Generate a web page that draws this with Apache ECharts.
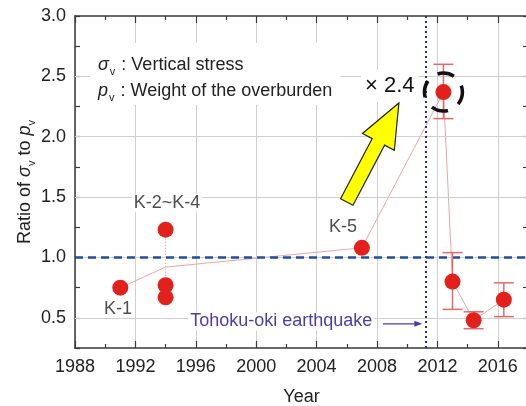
<!DOCTYPE html>
<html>
<head>
<meta charset="utf-8">
<script src="https://cdn.jsdelivr.net/npm/echarts@6/dist/echarts.min.js"></script>
<style>
  html, body { margin: 0; padding: 0; background: #fff; }
  #chart { width: 526px; height: 406px; }
</style>
</head>
<body>
<div id="chart"></div>
<script>
// Measured ratio of vertical stress to overburden weight, by survey year
const pointYears  = [1991, 1994, 1994, 1994, 2007, 2012.4, 2013.0, 2014.4, 2016.4];
const pointRatios = [0.75, 1.23, 0.77, 0.67, 1.08, 2.37, 0.80, 0.48, 0.65];

// Error ranges for the post-earthquake measurements
const errYears = [2012.4, 2013.0, 2014.4, 2016.4];
const errLow   = [2.15, 0.57, 0.41, 0.51];
const errHigh  = [2.60, 1.04, 0.55, 0.79];

// Trend line through the surveys (K-2~K-4 represented by their mean)
const trendYears  = [1991, 1994, 2007, 2012.4, 2013.0, 2014.4, 2016.4];
const trendRatios = [0.75, 0.92, 1.08, 2.37, 0.80, 0.48, 0.65];

// Spread of the K-2~K-4 group
const spreadYears  = [1994, 1994];
const spreadRatios = [1.23, 0.67];

// Survey labels and where they sit (year, ratio)
const surveyNames  = ['K-1', 'K-2~K-4', 'K-5'];
const surveyLabelX = [1990.85, 1994.1, 2005.75];
const surveyLabelY = [0.575, 1.45, 1.255];

// Reference values
const earthquakeYear = 2011.2;
const unityRatio = 1.0;
const gridRatios = [0.5, 1.0, 1.5, 2.0, 2.5];

// Axis ranges
const xMin = 1988, xMax = 2018, xStep = 4;
const yMin = 0.25, yMax = 3.0, yStep = 0.25;

const FONT = 'Liberation Sans, Arial, sans-serif';
const FS = 18;
const RED = '#e3211c';
const ERR = '#e46a6a';
const TREND = '#f2a3a3';

const pairs = (xs, ys) => xs.map((x, i) => [x, ys[i]]);

const chart = echarts.init(document.getElementById('chart'), null, { renderer: 'canvas' });

const axisLine = { show: true, lineStyle: { color: '#3a3a3a', width: 1.5 } };
const tickStyle = { color: '#3a3a3a', width: 1.2 };

const option = {
  animation: false,
  backgroundColor: '#ffffff',
  grid: { left: 75, right: -2, top: 16, bottom: 58, containLabel: false, outerBoundsMode: 'none' },
  xAxis: [{
    type: 'value', min: xMin, max: xMax, interval: xStep,
    axisLine: axisLine,
    axisTick: { inside: true, length: 7, lineStyle: tickStyle },
    minorTick: { show: true, splitNumber: 2, length: 4, lineStyle: tickStyle },
    splitLine: { show: true, lineStyle: { color: '#cfcfcf', width: 1 } },
    axisLabel: {
      margin: 10, color: '#222', fontSize: FS, fontFamily: FONT,
      formatter: v => (v >= xMax ? '' : String(v))
    },
    name: 'Year', nameLocation: 'middle', nameGap: 40, nameMoveOverlap: false,
    nameTextStyle: { color: '#222', fontSize: FS, fontFamily: FONT }
  }, {
    type: 'value', min: xMin, max: xMax, interval: xStep, position: 'top',
    axisLine: axisLine,
    axisTick: { inside: true, length: 7, lineStyle: tickStyle },
    minorTick: { show: true, splitNumber: 2, length: 4, lineStyle: tickStyle },
    splitLine: { show: false }, axisLabel: { show: false }
  }],
  yAxis: [{
    type: 'value', min: yMin, max: yMax, interval: yStep,
    axisLine: axisLine,
    axisTick: { inside: true, length: 5, lineStyle: tickStyle },
    splitLine: { show: false },
    axisLabel: {
      margin: 9, color: '#222', fontSize: FS, fontFamily: FONT,
      formatter: v => (Math.abs(v * 2 - Math.round(v * 2)) < 1e-6 ? v.toFixed(1) : '')
    },
    name: '{n|Ratio of }{i|σ}{s|v}{n| to }{i|p}{s|v}',
    nameLocation: 'middle', nameGap: 41, nameRotate: 90, nameMoveOverlap: false,
    nameTextStyle: {
      rich: {
        n: { fontSize: FS, fontFamily: FONT, color: '#222', verticalAlign: 'bottom' },
        i: { fontSize: FS, fontFamily: FONT, fontStyle: 'italic', color: '#222', verticalAlign: 'bottom' },
        s: { fontSize: 11, fontFamily: FONT, color: '#222', verticalAlign: 'bottom', padding: [0, 0, -3, 0] }
      }
    }
  }, {
    type: 'value', min: yMin, max: yMax, interval: yStep, position: 'right',
    axisLine: axisLine,
    axisTick: { inside: true, length: 5, lineStyle: tickStyle },
    splitLine: { show: false }, axisLabel: { show: false }
  }],
  series: [
    // horizontal grid lines
    {
      type: 'line', data: [], silent: true,
      markLine: {
        silent: true, symbol: 'none', label: { show: false },
        data: gridRatios.map(v => ({ yAxis: v, lineStyle: { color: '#cfcfcf', width: 1, type: 'solid' } }))
      }
    },
    // unity ratio and earthquake date
    {
      type: 'line', data: [], silent: true, z: 3,
      markLine: {
        silent: true, symbol: 'none', label: { show: false },
        data: [
          { yAxis: unityRatio, lineStyle: { color: '#1f4fa0', width: 2.6, type: [8, 5] } },
          { xAxis: earthquakeYear, lineStyle: { color: '#2d2d8f', width: 2, type: [2, 3] } }
        ]
      }
    },
    // trend line
    {
      type: 'line', data: pairs(trendYears, trendRatios), symbol: 'none', z: 4,
      lineStyle: { color: TREND, width: 1 }
    },
    // spread of K-2~K-4
    {
      type: 'line', data: pairs(spreadYears, spreadRatios), symbol: 'none', z: 4,
      lineStyle: { color: '#e88a8a', width: 1, type: [1, 2] }
    },
    // error bars
    {
      type: 'custom', z: 5,
      data: errYears.map((x, i) => [x, errLow[i], errHigh[i]]),
      renderItem: (params, api) => {
        const lo = api.coord([api.value(0), api.value(1)]);
        const hi = api.coord([api.value(0), api.value(2)]);
        const w = 10;
        const st = { stroke: ERR, lineWidth: 1.5 };
        return {
          type: 'group',
          children: [
            { type: 'line', shape: { x1: lo[0], y1: lo[1], x2: hi[0], y2: hi[1] }, style: st },
            { type: 'line', shape: { x1: lo[0] - w, y1: lo[1], x2: lo[0] + w, y2: lo[1] }, style: st },
            { type: 'line', shape: { x1: hi[0] - w, y1: hi[1], x2: hi[0] + w, y2: hi[1] }, style: st }
          ]
        };
      }
    },
    // measured points
    {
      type: 'scatter', data: pairs(pointYears, pointRatios), z: 6,
      symbol: 'circle', symbolSize: 16,
      itemStyle: { color: RED, opacity: 1 }
    },
    // survey names
    {
      type: 'scatter', z: 7, symbolSize: 1, itemStyle: { color: 'rgba(0,0,0,0)' },
      data: surveyNames.map((n, i) => ({ name: n, value: [surveyLabelX[i], surveyLabelY[i]] })),
      label: {
        show: true, position: 'inside', formatter: p => p.name,
        color: '#222', fontSize: FS, fontFamily: FONT,
        backgroundColor: '#fff', padding: [0, 2]
      }
    }
  ]
};

chart.setOption(option);

// Annotations placed from data coordinates
function px(x, y) { return chart.convertToPixel({ gridIndex: 0 }, [x, y]); }

const peak = px(2012.4, 2.37);
const tip = px(2009.45, 2.28);
const tail = px(2006.0, 1.46);

function arrowPolygon(t, s, headLen, headHalf, shaftHalf) {
  const dx = t[0] - s[0], dy = t[1] - s[1];
  const L = Math.hypot(dx, dy);
  const ux = dx / L, uy = dy / L;
  const nx = -uy, ny = ux;
  const bx = t[0] - ux * headLen, by = t[1] - uy * headLen;
  return [
    [s[0] + nx * shaftHalf, s[1] + ny * shaftHalf],
    [bx + nx * shaftHalf, by + ny * shaftHalf],
    [bx + nx * headHalf, by + ny * headHalf],
    [t[0], t[1]],
    [bx - nx * headHalf, by - ny * headHalf],
    [bx - nx * shaftHalf, by - ny * shaftHalf],
    [s[0] - nx * shaftHalf, s[1] - ny * shaftHalf]
  ];
}

const quakeTextPos = px(1995.5, 0.47);
const quakeArrowA = px(2008.4, 0.45);
const quakeArrowB = px(2011.0, 0.45);
const timesPos = px(2008.85, 2.42);
const QUAKE = '#4a3fa8';

chart.setOption({
  graphic: [
    {
      type: 'polygon', z: 100,
      shape: { points: arrowPolygon(tip, tail, 44, 18, 7) },
      style: { fill: '#ffff00', stroke: '#222', lineWidth: 1.2 }
    },
    {
      type: 'circle', z: 100,
      shape: { cx: peak[0], cy: peak[1], r: 19 },
      style: { fill: 'none', stroke: '#111', lineWidth: 3.5, lineDash: [17, 12], lineDashOffset: 4 }
    },
    {
      type: 'text', z: 99, x: timesPos[0], y: timesPos[1],
      style: {
        text: '× 2.4', fill: '#111', font: '22px ' + FONT,
        textAlign: 'center', textVerticalAlign: 'middle',
        backgroundColor: '#fff', padding: [4, 4, 6, 4]
      }
    },
    {
      type: 'text', z: 100, x: quakeTextPos[0], y: quakeTextPos[1],
      style: {
        text: 'Tohoku-oki earthquake', fill: QUAKE, font: FS + 'px ' + FONT,
        textAlign: 'left', textVerticalAlign: 'middle',
        backgroundColor: '#fff', padding: [0, 2]
      }
    },
    {
      type: 'line', z: 100,
      shape: { x1: quakeArrowA[0], y1: quakeArrowA[1], x2: quakeArrowB[0] - 6, y2: quakeArrowB[1] },
      style: { stroke: QUAKE, lineWidth: 1.2 }
    },
    {
      type: 'polygon', z: 100,
      shape: { points: [
        [quakeArrowB[0], quakeArrowB[1]],
        [quakeArrowB[0] - 8, quakeArrowB[1] - 3],
        [quakeArrowB[0] - 8, quakeArrowB[1] + 3]
      ] },
      style: { fill: QUAKE }
    },
    {
      type: 'text', z: 100, left: 90, top: 43,
      style: {
        text: '{i|σ}{s|v}{n| : Vertical stress}\n{i|p}{s|v}{n| : Weight of the overburden}',
        backgroundColor: '#fff', padding: [5, 8, 5, 8],
        rich: {
          n: { fontSize: FS, fontFamily: FONT, fill: '#222', verticalAlign: 'bottom', lineHeight: 26 },
          i: { fontSize: FS, fontFamily: FONT, fontStyle: 'italic', fill: '#222', verticalAlign: 'bottom', lineHeight: 26 },
          s: { fontSize: 11, fontFamily: FONT, fill: '#222', verticalAlign: 'bottom', lineHeight: 26, padding: [0, 1, -3, 1] }
        }
      }
    }
  ]
});
</script>
</body>
</html>
